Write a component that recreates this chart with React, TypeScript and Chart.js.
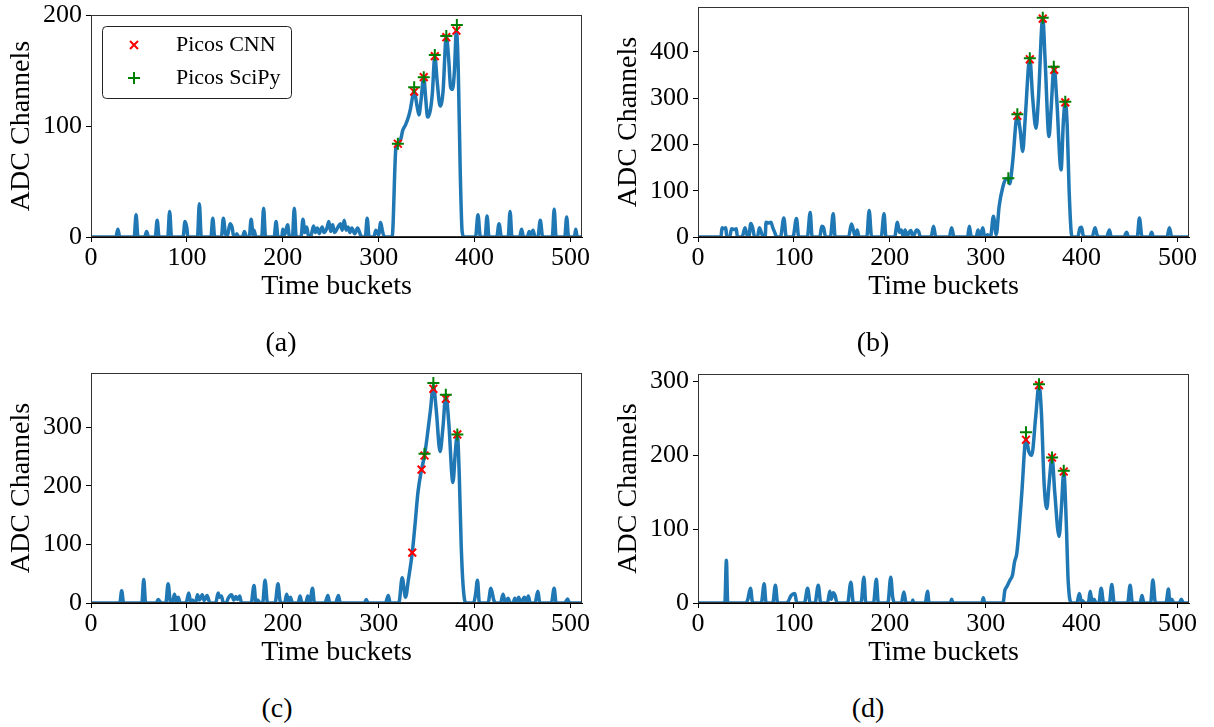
import React, { useEffect, useRef } from "react";
import { Chart, registerables } from "chart.js";

Chart.register(...registerables);

type P = [number, number];

// ---------- data ----------
const xTickValues = [0, 100, 200, 300, 400, 500];
const yTicksA = [0, 100, 200];
const yTicksB = [0, 100, 200, 300, 400];
const yTicksC = [0, 100, 200, 300];
const yTicksD = [0, 100, 200, 300];
const panelLabels = ["(a)", "(b)", "(c)", "(d)"];
const legendLabels = ["Picos CNN", "Picos SciPy"];
const xAxisTitle = "Time buckets";
const yAxisTitle = "ADC Channels";
const xMax = 512;
const yMaxes = [200, 497, 393, 310];

const waveA: P[] = [
  [0, 0], [26, 0], [28, 7], [30, 0],
  [45, 0], [47, 20], [49, 0],
  [56, 0], [58, 5], [60, 0],
  [67, 0], [69, 15], [71, 0],
  [80, 0], [82, 23], [84, 0],
  [96, 0], [98, 14], [100, 8], [101, 0],
  [111, 0], [113, 30], [115, 0],
  [125, 0], [127, 17], [129, 0],
  [136, 0], [138, 17], [140, 4], [142, 0], [145, 12], [147, 9], [149, 0],
  [151, 0], [152, 3], [154, 0],
  [158, 0], [160, 5], [162, 0],
  [165, 0], [167, 16], [169, 2], [170, 6], [172, 0],
  [178, 0], [180, 26], [182, 0],
  [191, 0], [193, 14], [195, 0],
  [199, 0], [200, 7], [202, 2], [205, 11], [207, 0],
  [210, 0], [212, 26], [214, 0],
  [219, 0], [221, 16], [223, 4], [225, 9], [227, 0],
  [229, 0], [232, 10], [234, 4], [236, 8], [238, 3], [241, 9], [243, 4], [246, 8], [248, 14], [250, 5],
  [252, 11], [254, 4], [257, 8], [260, 12], [262, 6], [264, 15], [266, 6], [268, 9], [270, 4],
  [272, 8], [275, 3], [278, 8], [281, 2], [283, 0],
  [286, 0], [288, 17], [290, 0],
  [295, 0], [297, 6], [300, 2], [302, 13], [304, 5], [306, 0],
  [314, 0], [318, 81], [320, 84], [323, 88], [325, 96], [328, 101], [331, 108], [333, 115],
  [337, 131], [340, 118], [342, 110], [344, 122], [347, 144], [349, 125], [351, 108], [354, 115],
  [356, 130], [358.5, 163], [361, 140], [364, 118], [367, 130], [370.5, 181], [373, 160],
  [375, 135], [377, 133], [379, 150], [381, 186], [383, 150], [385, 60], [387, 5], [389, 0],
  [401, 0], [403.5, 20], [406, 0],
  [411, 0], [413, 19], [415, 0],
  [423, 0], [425.5, 12], [428, 0],
  [435, 0], [437, 23], [439, 0],
  [447, 0], [449, 7], [451, 0],
  [455, 0], [457, 5], [459, 2], [461, 6], [463, 0],
  [466, 0], [468.5, 15], [471, 0],
  [481, 0], [483, 25], [485, 0],
  [494, 0], [496, 18], [498, 0],
  [504, 0], [505.5, 7], [507, 0], [512, 0],
];
const cnnA: P[] = [[320, 84], [337, 131], [347, 144], [358.5, 163], [370.5, 180], [381, 186]];
const scipyA: P[] = [[320, 84], [337, 135], [347, 144], [358.5, 164], [370.5, 181], [381.5, 191]];

const waveB: P[] = [
  [0, 0], [24, 0], [25, 20], [27, 18], [29, 20], [30, 0],
  [33, 0], [35, 18], [38, 16], [40, 18], [41, 0],
  [46, 0], [49, 20], [51, 5], [53, 0], [55, 29], [57, 20], [59, 0],
  [62, 0], [64, 20], [66, 10], [68, 0],
  [70, 0], [71, 32], [74, 30], [76, 32], [78, 20], [80, 10], [82, 0],
  [86, 0], [89.5, 41], [92, 0],
  [99, 0], [102.7, 40], [105, 0],
  [114, 0], [117, 53], [119, 0],
  [127, 0], [129, 23], [131, 20], [133, 0],
  [138, 0], [141, 50], [143, 0],
  [157, 0], [160, 28], [162, 15], [164, 0], [166, 15], [168, 0],
  [176, 0], [178.5, 57], [181, 0],
  [191, 0], [194, 50], [196, 0],
  [205, 0], [208, 32], [210, 10], [212, 15], [214, 0], [216, 15], [218, 0], [220, 10], [222, 14],
  [224, 0], [228, 15], [230, 12], [232, 0],
  [243, 0], [245.6, 23], [248, 0],
  [262, 0], [264.5, 20], [267, 0],
  [281, 0], [283, 23], [285, 0],
  [290, 0], [292, 15], [294, 0], [297, 20], [299, 0], [302, 5],
  [305, 0], [308, 45], [311, 5], [314, 66], [318, 109], [321, 125], [323.6, 127], [325, 115],
  [328, 160], [333, 264], [336, 230], [338.6, 185], [341, 250], [346, 386], [349, 300],
  [352.5, 235], [355, 300], [359.5, 474], [362, 380], [366, 217], [368, 270], [371.3, 368],
  [374, 300], [378.6, 145], [381, 250], [383, 292], [385, 240], [387, 100], [390, 0],
  [396, 0], [398.4, 20], [400, 21], [402, 0],
  [411, 0], [414, 20], [416, 5], [418, 0],
  [426, 0], [429, 15], [431, 0],
  [444, 0], [447, 10], [449, 0],
  [458, 0], [460.3, 41], [463, 0],
  [471, 0], [473, 10], [475, 0],
  [489, 0], [491.6, 20], [494, 0], [512, 0],
];
const cnnB: P[] = [[333, 262], [346, 384], [359.5, 472], [371.5, 361], [383, 291]];
const scipyB: P[] = [[323.6, 127], [333, 265], [346, 386], [359.5, 474], [371, 368], [383, 292]];

const waveC: P[] = [
  [0, 0], [30, 0], [32, 21], [34, 0],
  [53, 0], [55, 40], [57, 0],
  [68, 0], [70, 6], [72, 2], [74, 0],
  [78, 0], [80.4, 33], [83, 0],
  [85, 0], [87, 15], [89, 3], [91, 10], [93, 0],
  [99, 0], [102, 17], [104, 0], [106, 5], [108, 0],
  [109, 0], [111, 14], [113, 5], [116, 14], [118, 4], [121, 13], [123, 4], [124, 0],
  [130, 0], [132.6, 17], [134, 10], [136, 12], [138, 0],
  [141, 0], [143, 8], [146.6, 14], [149, 5], [151, 11], [153, 6], [155, 12], [157, 0],
  [167, 0], [170, 30], [172, 0], [174, 5], [176, 0],
  [179, 0], [181.5, 39], [184, 0],
  [192, 0], [195, 33], [197, 5], [199, 0],
  [202, 0], [204, 15], [206, 3], [208, 10], [210, 0],
  [216, 0], [218, 12], [220, 0],
  [224, 0], [226, 12], [228, 0], [231, 25], [233, 0],
  [244, 0], [247, 13], [249, 0],
  [255, 0], [258, 13], [260, 0],
  [285, 0], [287, 6], [289, 0],
  [307, 0], [310, 13], [312, 0],
  [321, 0], [324.5, 43], [328, 10], [331, 40], [335, 86], [338, 136], [341, 190], [344.7, 228],
  [347.8, 252], [351, 290], [354, 330], [357, 372], [360, 330], [364, 259], [367, 300], [370, 356],
  [373, 310], [377.4, 206], [380, 260], [382, 288], [384, 220], [386, 100], [388, 30], [390.7, 0],
  [399, 0], [401, 15], [403, 39], [405, 0],
  [414, 0], [417, 25], [420, 5], [422, 0],
  [427, 0], [429.7, 15], [432, 0], [435, 8], [437, 0],
  [440, 0], [442, 8], [444, 0], [446, 10], [448, 0], [452, 10], [454, 0], [456, 12], [458, 0],
  [463, 0], [466, 20], [468, 0],
  [480, 0], [483, 25], [485, 0],
  [494, 0], [497, 7], [499, 0], [512, 0],
];
const cnnC: P[] = [[335, 86], [344.7, 228], [347.8, 252], [357, 366], [370, 349], [382, 288]];
const scipyC: P[] = [[347.8, 255], [357, 376], [370, 356], [382, 288]];

const waveD: P[] = [
  [0, 0], [28, 0], [29.6, 58], [31, 0],
  [50, 0], [52, 5], [54.7, 20], [57, 0],
  [66, 0], [69, 26], [71, 0],
  [78, 0], [80.7, 24], [83, 0],
  [92, 0], [94, 2], [97, 10], [101, 13], [103, 0],
  [111, 0], [114.3, 20], [117, 0],
  [122, 0], [125.4, 24], [128, 0],
  [135, 0], [137.5, 16], [139, 5], [141, 14], [143, 10], [145, 0],
  [156, 0], [159.4, 28], [162, 0],
  [170, 0], [173, 35], [175, 0],
  [183, 0], [186, 32], [188, 0],
  [198, 0], [201, 35], [203, 8], [205, 0],
  [212, 0], [214.7, 15], [217, 0],
  [223, 0], [224, 4], [225, 0],
  [237, 0], [239.3, 16], [241, 0],
  [263, 0], [264.5, 5], [266, 0],
  [296, 0], [297.5, 7], [299, 0],
  [318, 0], [320, 17], [322, 22], [325.4, 31], [328, 38], [330, 55], [332.4, 67], [335, 103],
  [337.6, 148], [342, 222], [345, 205], [348, 200], [352, 250], [355.6, 295], [358, 260],
  [361, 160], [363.7, 128], [366, 160], [369.2, 197], [372, 150], [376.5, 90], [379, 130],
  [381.4, 178], [384, 110], [386, 30], [389.8, 0],
  [395, 0], [397.7, 13], [400, 0], [401, 3], [403, 0],
  [407, 0], [409, 16], [411, 0], [413, 5], [415, 0],
  [418, 0], [420.4, 20], [423, 0],
  [429, 0], [431.5, 25], [434, 0],
  [448, 0], [450.6, 24], [453, 0],
  [461, 0], [463, 10], [465, 0],
  [472, 0], [474.3, 31], [477, 0],
  [488, 0], [490.6, 19], [492, 0], [494, 5], [496, 0], [502, 0], [504, 5], [506, 0], [512, 0],
];
const cnnD: P[] = [[342, 221], [355.6, 295], [369.2, 197], [381.4, 178]];
const scipyD: P[] = [[342, 231], [355.6, 296], [369.2, 197], [381.4, 179]];

// ---------- styling / layout ----------
const FONT = "'Liberation Serif', 'Times New Roman', Times, serif";
const LINE_COLOR = "#1f77b4";
const CNN_COLOR = "#ff0000";
const SCIPY_COLOR = "#008000";
const PAD_TOP = 20;
const PAD_RIGHT = 25;
const Y_AXIS_W = 91;
const X_AXIS_H = 66;

const framePlugin = {
  id: "frame",
  afterDraw(chart: any) {
    const { ctx, chartArea: a } = chart;
    ctx.save();
    ctx.strokeStyle = "#333";
    ctx.lineWidth = 1;
    ctx.strokeRect(Math.round(a.left) + 0.5, Math.round(a.top) + 0.5, Math.round(a.right - a.left) - 1, Math.round(a.bottom - a.top) - 1);
    ctx.restore();
  },
};

const legendPlugin = {
  id: "boxLegend",
  afterDraw(chart: any) {
    const { ctx, chartArea: a } = chart;
    const x = a.left + 11.5, y = a.top + 11.5, w = 189, h = 72, r = 4;
    ctx.save();
    ctx.beginPath();
    ctx.moveTo(x + r, y);
    ctx.lineTo(x + w - r, y);
    ctx.arcTo(x + w, y, x + w, y + r, r);
    ctx.lineTo(x + w, y + h - r);
    ctx.arcTo(x + w, y + h, x + w - r, y + h, r);
    ctx.lineTo(x + r, y + h);
    ctx.arcTo(x, y + h, x, y + h - r, r);
    ctx.lineTo(x, y + r);
    ctx.arcTo(x, y, x + r, y, r);
    ctx.closePath();
    ctx.fillStyle = "rgba(255,255,255,0.85)";
    ctx.fill();
    ctx.strokeStyle = "#222";
    ctx.lineWidth = 1;
    ctx.stroke();

    const mx = a.left + 43;
    const y1 = a.top + 30;
    const y2 = a.top + 63;
    ctx.lineWidth = 2;
    ctx.strokeStyle = CNN_COLOR;
    ctx.beginPath();
    ctx.moveTo(mx - 4, y1 - 4); ctx.lineTo(mx + 4, y1 + 4);
    ctx.moveTo(mx + 4, y1 - 4); ctx.lineTo(mx - 4, y1 + 4);
    ctx.stroke();
    ctx.strokeStyle = SCIPY_COLOR;
    ctx.beginPath();
    ctx.moveTo(mx - 6, y2); ctx.lineTo(mx + 6, y2);
    ctx.moveTo(mx, y2 - 6); ctx.lineTo(mx, y2 + 6);
    ctx.stroke();

    ctx.fillStyle = "#000";
    ctx.font = `22px ${FONT}`;
    ctx.textBaseline = "middle";
    ctx.textAlign = "left";
    ctx.fillText(legendLabels[0], a.left + 85, y1);
    ctx.fillText(legendLabels[1], a.left + 85, y2);
    ctx.restore();
  },
};

type PanelProps = {
  wave: P[];
  cnn: P[];
  scipy: P[];
  yMax: number;
  yTicks: number[];
  legend: boolean;
  areaLeft: number;
  areaRight: number;
  areaTop: number;
  areaBottom: number;
};

function Panel(props: PanelProps) {
  const ref = useRef<HTMLCanvasElement>(null);
  const { wave, cnn, scipy, yMax, yTicks, legend, areaLeft, areaRight, areaTop, areaBottom } = props;
  const left = areaLeft - Y_AXIS_W;
  const top = areaTop - PAD_TOP;
  const width = areaRight + PAD_RIGHT - left;
  const height = areaBottom + X_AXIS_H - top;

  useEffect(() => {
    if (!ref.current) return;
    const tickFont = { family: FONT, size: 26 };
    const titleFont = { family: FONT, size: 28 };
    const toXY = (arr: P[]) => arr.map(([x, y]) => ({ x, y }));
    const chart = new Chart(ref.current, {
      type: "line",
      data: {
        datasets: [
          {
            type: "scatter",
            label: legendLabels[1],
            data: toXY(scipy),
            pointStyle: "cross",
            pointRadius: 6,
            pointBorderWidth: 2,
            pointBorderColor: SCIPY_COLOR,
            borderColor: SCIPY_COLOR,
            backgroundColor: SCIPY_COLOR,
            showLine: false,
            order: 0,
          } as any,
          {
            type: "scatter",
            label: legendLabels[0],
            data: toXY(cnn),
            pointStyle: "crossRot",
            pointRadius: 5.5,
            pointBorderWidth: 2,
            pointBorderColor: CNN_COLOR,
            borderColor: CNN_COLOR,
            backgroundColor: CNN_COLOR,
            showLine: false,
            order: 1,
          } as any,
          {
            type: "line",
            label: "signal",
            data: toXY(wave),
            borderColor: LINE_COLOR,
            borderWidth: 3.5,
            pointRadius: 0,
            cubicInterpolationMode: "monotone",
            fill: false,
            order: 2,
          } as any,
        ],
      },
      options: {
        animation: false,
        responsive: false,
        maintainAspectRatio: false,
        devicePixelRatio: 1,
        events: [],
        layout: { padding: { left: 0, top: PAD_TOP, right: PAD_RIGHT, bottom: 0 } },
        plugins: { legend: { display: false }, tooltip: { enabled: false } },
        scales: {
          x: {
            type: "linear",
            min: 0,
            max: xMax,
            afterBuildTicks: (scale: any) => {
              scale.ticks = xTickValues.map((v) => ({ value: v }));
            },
            ticks: { font: tickFont, color: "#000", padding: 1, maxRotation: 0, autoSkip: false },
            grid: { display: true, drawOnChartArea: false, drawTicks: true, tickLength: 5, tickColor: "#000", tickWidth: 1 },
            border: { display: true, color: "#000", width: 1 },
            title: { display: true, text: xAxisTitle, font: titleFont, color: "#000", padding: { top: 0, bottom: 0 } },
            afterFit: (s: any) => {
              s.height = X_AXIS_H;
            },
          },
          y: {
            type: "linear",
            min: 0,
            max: yMax,
            afterBuildTicks: (scale: any) => {
              scale.ticks = yTicks.map((v) => ({ value: v }));
            },
            ticks: { font: tickFont, color: "#000", padding: 4, autoSkip: false },
            grid: { display: true, drawOnChartArea: false, drawTicks: true, tickLength: 5, tickColor: "#000", tickWidth: 1 },
            border: { display: true, color: "#000", width: 1 },
            title: { display: true, text: yAxisTitle, font: titleFont, color: "#000", padding: { top: 5, bottom: 0 } },
            afterFit: (s: any) => {
              s.width = Y_AXIS_W;
            },
          },
        },
      } as any,
      plugins: legend ? [framePlugin, legendPlugin] : [framePlugin],
    });
    return () => chart.destroy();
  }, []);

  return (
    <canvas
      ref={ref}
      width={width}
      height={height}
      style={{ position: "absolute", left, top, width, height }}
    />
  );
}

const captionStyle = (x: number, y: number): React.CSSProperties => ({
  position: "absolute",
  left: x,
  top: y,
  transform: "translate(-50%, -50%)",
  fontFamily: FONT,
  fontSize: 28,
  color: "#000",
  whiteSpace: "nowrap",
  lineHeight: 1,
});

export default function App() {
  return (
    <div style={{ position: "absolute", left: 0, top: 0, width: 1214, height: 727, background: "#fff", overflow: "hidden" }}>
      <Panel wave={waveA} cnn={cnnA} scipy={scipyA} yMax={yMaxes[0]} yTicks={yTicksA} legend={true} areaLeft={91} areaRight={582} areaTop={15} areaBottom={237} />
      <Panel wave={waveB} cnn={cnnB} scipy={scipyB} yMax={yMaxes[1]} yTicks={yTicksB} legend={false} areaLeft={698} areaRight={1189} areaTop={7} areaBottom={237} />
      <Panel wave={waveC} cnn={cnnC} scipy={scipyC} yMax={yMaxes[2]} yTicks={yTicksC} legend={false} areaLeft={91} areaRight={582} areaTop={373} areaBottom={603} />
      <Panel wave={waveD} cnn={cnnD} scipy={scipyD} yMax={yMaxes[3]} yTicks={yTicksD} legend={false} areaLeft={698} areaRight={1189} areaTop={374} areaBottom={603} />
      <div style={captionStyle(281, 342)}>{panelLabels[0]}</div>
      <div style={captionStyle(873, 342)}>{panelLabels[1]}</div>
      <div style={captionStyle(277, 708)}>{panelLabels[2]}</div>
      <div style={captionStyle(868, 708)}>{panelLabels[3]}</div>
    </div>
  );
}
